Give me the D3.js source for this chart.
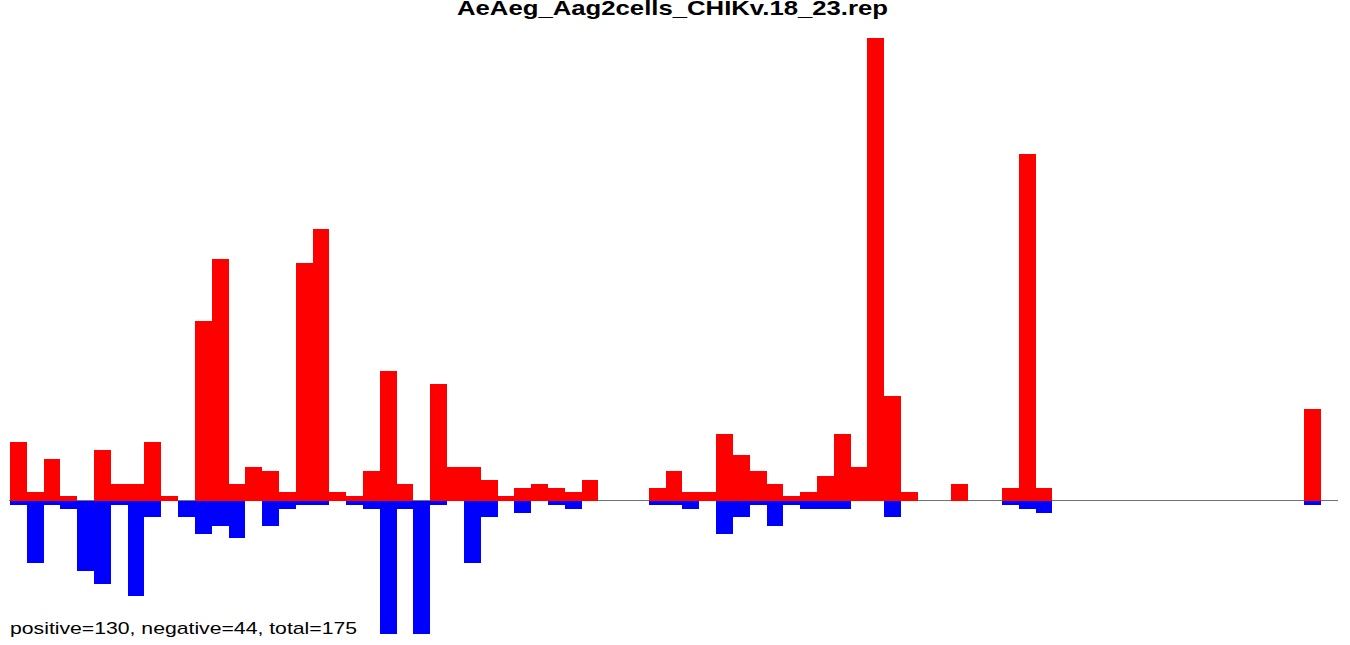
<!DOCTYPE html>
<html>
<head>
<meta charset="utf-8">
<script src="https://cdn.jsdelivr.net/npm/d3@7"></script>
<style>
  html, body { margin: 0; padding: 0; background: #fff; }
  svg { display: block; }
</style>
</head>
<body>
<script>
// ---- data ----
const titleText = "AeAeg_Aag2cells_CHIKv.18_23.rep";
const summaryText = "positive=130, negative=44, total=175";
const positive = [14,2,10,1,0,12,4,4,14,1, 0,43,58,4,8,7,2,57,65,2,
                  1,7,31,4,0,28,8,8,5,1, 3,4,3,2,5,0,0,0,3,7,
                  2,2,16,11,7,4,1,2,6,16, 8,111,25,2,0,0,4,0,0,3,
                  83,3,0,0,0,0,0,0,0,0, 0,0,0,0,0,0,0,22];
const negative = [1,15,1,2,17,20,1,23,4,0, 4,8,6,9,0,6,2,1,1,0,
                  1,2,32,2,32,1,0,15,4,0, 3,0,1,2,0,0,0,0,1,1,
                  2,0,8,4,1,6,1,2,2,2, 0,0,4,0,0,0,0,0,0,1,
                  2,3,0,0,0,0,0,0,0,0, 0,0,0,0,0,0,0,1];
const bins = d3.range(positive.length);

// ---- chart ----
const W = 1350, H = 645;
const svg = d3.select("body").append("svg").attr("width", W).attr("height", H);

const x = d3.scaleBand().domain(bins).range([10, 1321.3]).padding(0);
const y = d3.scaleLinear().domain([-32, 111]).range([634, 37.6]);

// zero line
svg.append("line")
  .attr("x1", 9).attr("x2", 1338)
  .attr("y1", y(0)).attr("y2", y(0))
  .attr("stroke", "#707070").attr("stroke-width", 1);

// positive bars
svg.append("g").attr("shape-rendering", "crispEdges")
  .selectAll("rect").data(bins.filter(i => positive[i] > 0)).join("rect")
  .attr("x", i => x(i)).attr("width", x.bandwidth())
  .attr("y", i => y(positive[i])).attr("height", i => y(0) - y(positive[i]))
  .attr("fill", "#ff0000");

// negative bars
svg.append("g").attr("shape-rendering", "crispEdges")
  .selectAll("rect").data(bins.filter(i => negative[i] > 0)).join("rect")
  .attr("x", i => x(i)).attr("width", x.bandwidth())
  .attr("y", y(0)).attr("height", i => y(-negative[i]) - y(0))
  .attr("fill", "#0000ff");

// title
svg.append("text")
  .attr("x", 672.5).attr("y", 14.5)
  .attr("text-anchor", "middle")
  .attr("font-family", "Liberation Sans, Arial, sans-serif")
  .attr("font-weight", "bold").attr("font-size", 20.5)
  .attr("textLength", 431).attr("lengthAdjust", "spacingAndGlyphs")
  .attr("fill", "#000")
  .text(titleText);

// summary text
svg.append("text")
  .attr("x", 10).attr("y", 634)
  .attr("font-family", "Liberation Sans, Arial, sans-serif")
  .attr("font-size", 17)
  .attr("textLength", 347).attr("lengthAdjust", "spacingAndGlyphs")
  .attr("fill", "#000")
  .text(summaryText);
</script>
</body>
</html>
